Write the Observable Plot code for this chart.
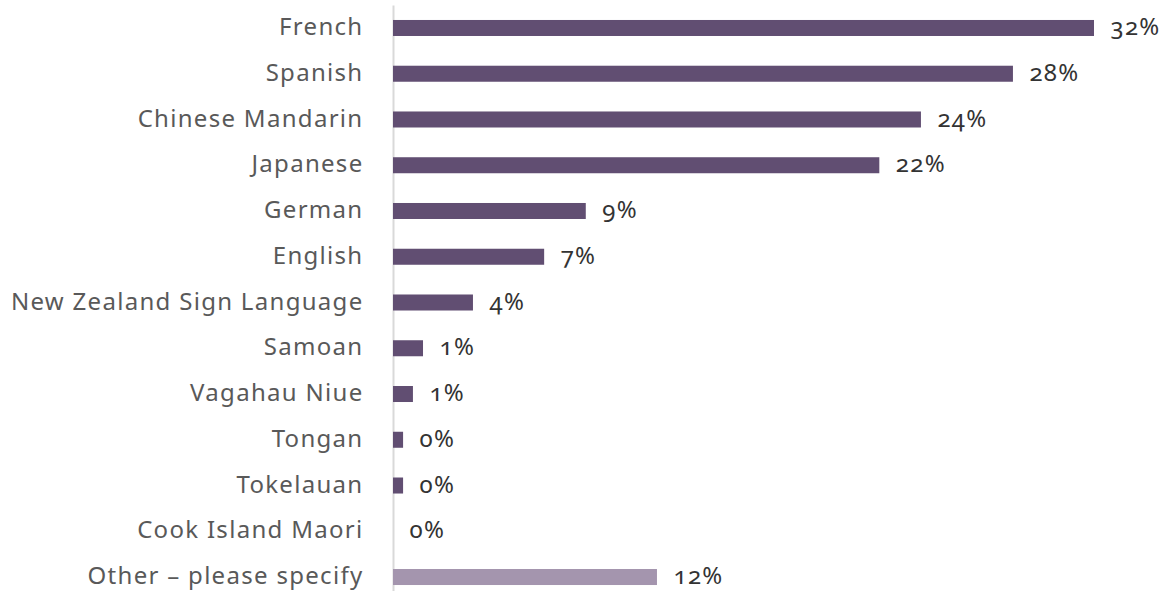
<!DOCTYPE html>
<html>
<head>
<meta charset="utf-8">
<script src="https://cdn.jsdelivr.net/npm/d3@7"></script>
<script src="https://cdn.jsdelivr.net/npm/@observablehq/plot@0.6"></script>
<style>
  html, body { margin: 0; padding: 0; background: #fff; }
  #chart svg { display: block; }
</style>
</head>
<body>
<div id="chart"></div>
<script>
const languages = ["French", "Spanish", "Chinese Mandarin", "Japanese", "German", "English",
  "New Zealand Sign Language", "Samoan", "Vagahau Niue", "Tongan", "Tokelauan",
  "Cook Island Maori", "Other – please specify"];
const values = [32, 28.3, 24.1, 22.2, 8.8, 6.9, 3.65, 1.37, 0.91, 0.46, 0.46, 0, 12.05];
const labels = ["32%", "28%", "24%", "22%", "9%", "7%", "4%", "1%", "1%", "0%", "0%", "0%", "12%"];
const groups = ["main", "main", "main", "main", "main", "main", "main", "main", "main", "main", "main", "main", "other"];

const data = languages.map((l, i) => ({language: l, value: values[i], label: labels[i], group: groups[i]}));

const chart = Plot.plot({
  width: 1176,
  height: 591,
  marginLeft: 393,
  marginRight: 82,
  marginTop: 15.4,
  marginBottom: 1.4,
  style: {fontFamily: "'Noto Sans', sans-serif", fontSize: "24px", background: "#fff"},
  x: {domain: [0, 32], axis: null},
  y: {domain: languages, padding: 0.65, paddingOuter: 0.1, round: false, label: null},
  color: {domain: ["main", "other"], range: ["#614e72", "#a495ae"]},
  marks: [
    Plot.ruleX([0], {stroke: "#d9d9d9", strokeWidth: 2, insetTop: -10, insetBottom: -2}),
    Plot.barX(data, {x: "value", y: "language", fill: "group"}),
    Plot.text(data, {x: "value", y: "language", text: "label", dx: 16, dy: -1, textAnchor: "start",
      fill: "#333333", fontSize: 24}),
    Plot.axisY({tickSize: 0, tickPadding: 30, dy: -1, fontSize: 24, color: "#595959", label: null})
  ]
});
chart.querySelectorAll("text").forEach(t => {
  t.style.fontVariantNumeric = "oldstyle-nums";
  t.style.letterSpacing = "1.3px";
});
document.getElementById("chart").appendChild(chart);
</script>
</body>
</html>
